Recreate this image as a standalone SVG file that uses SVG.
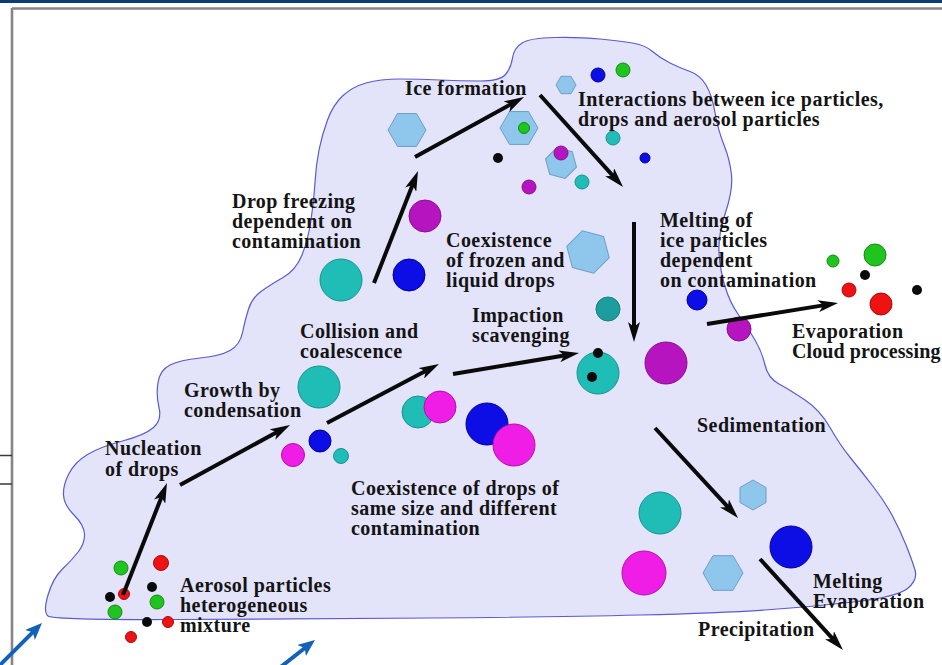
<svg xmlns="http://www.w3.org/2000/svg" width="942" height="665" viewBox="0 0 942 665">
  <style>
    .lbl { font-family: "Liberation Serif", "Times New Roman", serif; font-weight: bold; font-size: 20px; letter-spacing: 0.45px; fill: #141414; }
    .tight { letter-spacing: 0.1px; }
    .cloud { fill: #e3e3fa; stroke: #5a5ad2; stroke-width: 1.2; }
    .flow { stroke: #0a0a0a; stroke-width: 4; fill: none; marker-end: url(#head); }
    .ptr { stroke: #1263b8; stroke-width: 4; fill: none; marker-end: url(#bhead); }
    .hex { fill: #8fc6ec; stroke: #6d9fc6; stroke-width: 1; }
    .teal { fill: #20bcb6; stroke: #15948f; stroke-width: 1; }
    .dteal { fill: #1c9e9e; stroke: #157d7d; stroke-width: 1; }
    .blue { fill: #0d0de6; stroke: #00009c; stroke-width: 1; }
    .pink { fill: #ef1de6; stroke: #b010a8; stroke-width: 1; }
    .purple { fill: #b614bf; stroke: #861090; stroke-width: 1; }
    .green { fill: #1fc41f; stroke: #138a13; stroke-width: 1; }
    .red { fill: #ee1212; stroke: #a80a0a; stroke-width: 1; }
    .black { fill: #0a0a0a; }
  </style>
  <defs>
    <marker id="head" markerUnits="userSpaceOnUse" viewBox="0 0 20 12" markerWidth="20" markerHeight="12" refX="8" refY="6" orient="auto">
      <path d="M0,0 L20,6 L0,12 L5,6 z" fill="#0a0a0a"/>
    </marker>
    <marker id="bhead" markerUnits="userSpaceOnUse" viewBox="0 0 17 14" markerWidth="17" markerHeight="14" refX="7" refY="7" orient="auto">
      <path d="M0,0 L17,7 L0,14 L4,7 z" fill="#1263b8"/>
    </marker>
  </defs>

  <rect width="942" height="665" fill="#ffffff"/>

  <!-- page frame -->
  <g id="frame">
    <rect x="0" y="0" width="942" height="3" fill="#0b3c74"/>
    <path d="M12,8.5 H942 M12,8 V665" stroke="#858585" stroke-width="2.6" fill="none"/>
    <path d="M0,455.5 H12 M0,484 H12" stroke="#3a3a3a" stroke-width="1.4" fill="none"/>
  </g>

  <!-- cloud body -->
  <path id="cloud" class="cloud" d="M48,616 Q53,620 176.5,619.5 Q300,619 430,618 Q560,617 640,615 Q720,613 765,610 Q810,607 853.5,602 Q897,597 907.5,588.5 Q918,580 915,570 Q912,560 906,545 Q900,530 892.5,516 Q885,502 873.5,487 Q862,472 851,458.5 Q840,445 830,427.5 Q820,410 805,400 Q790,390 779,384 Q768,378 765,365 Q762,352 755,340 Q748,328 739,315.5 Q730,303 725,286.5 Q720,270 719,252.5 Q718,235 725.5,212.5 Q733,190 731.5,175 Q730,160 724,145 Q718,130 715,112.5 Q712,95 706,85 Q700,75 690,71.5 Q680,68 670,63 Q660,58 652.5,51.5 Q645,45 632.5,43 Q620,41 600,39 Q580,37 555,37.5 Q530,38 522,43 Q514,48 512.5,58 Q511,68 505.5,74.5 Q500,81 480,81 Q460,81 440,80 Q420,79 400,79 Q380,79 366,83 Q352,87 342.5,96 Q333,105 327.5,120 Q322,135 319,150 Q316,165 315,182.5 Q314,200 311,220 Q308,240 302,255 Q296,270 283,277.5 Q270,285 261,291.5 Q252,298 248.5,309 Q245,320 242.5,332.5 Q240,345 230,350.5 Q220,356 200,358 Q180,360 170,365 Q160,370 158,382.5 Q156,395 159,407.5 Q162,420 153.5,427.5 Q145,435 122.5,441 Q100,447 87.5,454.5 Q75,462 69,473.5 Q63,485 63.5,495 Q64,505 74,515 Q84,525 84.5,534 Q85,543 78.5,551.5 Q72,560 62.5,569 Q53,578 48,595 Q43,612 48,616 Z"/>

  <!-- aerosol particles -->
  <g id="aerosol">
    <circle class="green" cx="121" cy="568" r="7"/>
    <circle class="red" cx="161" cy="563" r="7.5"/>
    <circle class="black" cx="110" cy="597" r="5"/>
    <circle class="red" cx="124" cy="594" r="5.5"/>
    <circle class="black" cx="152" cy="587" r="5"/>
    <circle class="green" cx="157" cy="602" r="7"/>
    <circle class="green" cx="115" cy="612" r="7"/>
    <circle class="black" cx="147" cy="622" r="5"/>
    <circle class="red" cx="168" cy="622" r="5.5"/>
    <circle class="red" cx="131" cy="637" r="5.5"/>
    <text class="lbl" x="180" y="592">Aerosol particles</text>
    <text class="lbl" x="180" y="612">heterogeneous</text>
    <text class="lbl" x="180" y="632">mixture</text>
  </g>

  <g id="nucleation">
    <text class="lbl" x="105" y="455">Nucleation</text>
    <text class="lbl" x="105" y="476">of drops</text>
  </g>

  <g id="growth">
    <circle class="teal" cx="319" cy="387" r="21"/>
    <circle class="pink" cx="293" cy="455" r="11.5"/>
    <circle class="blue" cx="320" cy="441" r="11"/>
    <circle class="teal" cx="341" cy="456" r="7.5"/>
    <text class="lbl" x="184" y="397">Growth by</text>
    <text class="lbl" x="184" y="417">condensation</text>
  </g>

  <g id="collision">
    <circle class="teal" cx="418" cy="412" r="16"/>
    <circle class="pink" cx="440" cy="407" r="16"/>
    <circle class="blue" cx="487" cy="424" r="21"/>
    <circle class="pink" cx="514" cy="445" r="21"/>
    <text class="lbl" x="300" y="338">Collision and</text>
    <text class="lbl" x="300" y="358">coalescence</text>
  </g>

  <g id="same-size">
    <text class="lbl" x="351" y="495">Coexistence of drops of</text>
    <text class="lbl" x="351" y="515">same size and different</text>
    <text class="lbl" x="351" y="535">contamination</text>
  </g>

  <g id="drop-freezing">
    <circle class="teal" cx="341" cy="280" r="21"/>
    <circle class="blue" cx="409" cy="275" r="16"/>
    <circle class="purple" cx="425" cy="216" r="16"/>
    <text class="lbl" x="232" y="208">Drop freezing</text>
    <text class="lbl" x="232" y="228">dependent on</text>
    <text class="lbl" x="232" y="248">contamination</text>
  </g>

  <g id="ice-formation">
    <polygon class="hex" transform="translate(407,130)" points="19,0 9.5,16.45 -9.5,16.45 -19,0 -9.5,-16.45 9.5,-16.45"/>
    <text class="lbl" x="405" y="95">Ice formation</text>
  </g>

  <g id="interactions">
    <polygon class="hex" transform="translate(519,128)" points="19,0 9.5,16.45 -9.5,16.45 -19,0 -9.5,-16.45 9.5,-16.45"/>
    <circle class="green" cx="524" cy="128" r="5.5"/>
    <polygon class="hex" transform="translate(566,85)" points="10,0 5,8.66 -5,8.66 -10,0 -5,-8.66 5,-8.66"/>
    <circle class="blue" cx="598" cy="75" r="7"/>
    <circle class="green" cx="623" cy="70" r="7"/>
    <circle class="black" cx="498" cy="158" r="5"/>
    <polygon class="hex" transform="translate(561,163) rotate(15)" points="16,0 8,13.86 -8,13.86 -16,0 -8,-13.86 8,-13.86"/>
    <circle class="purple" cx="561" cy="153" r="7"/>
    <circle class="teal" cx="613" cy="138" r="7"/>
    <circle class="teal" cx="582" cy="182" r="7"/>
    <circle class="purple" cx="529" cy="187" r="7"/>
    <circle class="blue" cx="645" cy="158" r="5"/>
    <text class="lbl" x="578" y="106">Interactions between ice particles,</text>
    <text class="lbl" x="578" y="126">drops and aerosol particles</text>
  </g>

  <g id="frozen-liquid">
    <polygon class="hex" transform="translate(588,252) rotate(15)" points="22,0 11,19.05 -11,19.05 -22,0 -11,-19.05 11,-19.05"/>
    <text class="lbl" x="446" y="247">Coexistence</text>
    <text class="lbl" x="446" y="267">of frozen and</text>
    <text class="lbl" x="446" y="287">liquid drops</text>
  </g>

  <g id="impaction">
    <circle class="dteal" cx="608" cy="309" r="12"/>
    <circle class="teal" cx="598" cy="373" r="21"/>
    <circle class="black" cx="598" cy="353" r="5"/>
    <circle class="black" cx="592" cy="377" r="5"/>
    <text class="lbl" x="472" y="322">Impaction</text>
    <text class="lbl" x="472" y="342">scavenging</text>
  </g>

  <g id="melting-ice">
    <circle class="blue" cx="697" cy="300" r="10"/>
    <circle class="purple" cx="739" cy="329" r="12"/>
    <circle class="purple" cx="666" cy="363" r="21"/>
    <text class="lbl" x="660" y="227">Melting of</text>
    <text class="lbl" x="660" y="247">ice particles</text>
    <text class="lbl" x="660" y="267">dependent</text>
    <text class="lbl" x="660" y="287">on contamination</text>
  </g>

  <g id="evaporation">
    <circle class="green" cx="833" cy="261" r="6"/>
    <circle class="green" cx="875" cy="255" r="11"/>
    <circle class="black" cx="865" cy="275" r="5"/>
    <circle class="red" cx="849" cy="290" r="7"/>
    <circle class="red" cx="881" cy="304" r="11"/>
    <circle class="black" cx="917" cy="290" r="5"/>
    <text class="lbl" x="792" y="338">Evaporation</text>
    <text class="lbl tight" x="792" y="358">Cloud processing</text>
  </g>

  <g id="sedimentation">
    <circle class="teal" cx="660" cy="513" r="21"/>
    <polygon class="hex" transform="translate(753,495) rotate(90)" points="15,0 7.5,12.99 -7.5,12.99 -15,0 -7.5,-12.99 7.5,-12.99"/>
    <circle class="pink" cx="644" cy="573" r="22"/>
    <polygon class="hex" transform="translate(723,573)" points="20,0 10,17.32 -10,17.32 -20,0 -10,-17.32 10,-17.32"/>
    <circle class="blue" cx="791" cy="547" r="21"/>
    <text class="lbl" x="697" y="432">Sedimentation</text>
  </g>

  <g id="melting-evaporation">
    <text class="lbl" x="813" y="588">Melting</text>
    <text class="lbl" x="813" y="608">Evaporation</text>
  </g>

  <g id="precipitation">
    <text class="lbl" x="698" y="636">Precipitation</text>
  </g>

  <!-- process arrows -->
  <g id="connectors">
    <path class="flow" d="M123,595 L162.6,494.2"/>
    <path class="flow" d="M180,485 L279.5,430.7"/>
    <path class="flow" d="M327,423 L428.4,369.6"/>
    <path class="flow" d="M453,374 L567.2,355"/>
    <path class="flow" d="M374,283 L413.6,182.2"/>
    <path class="flow" d="M415,157 L513.5,102.8"/>
    <path class="flow" d="M540,95 L615,178.1"/>
    <path class="flow" d="M634,222 L634,330"/>
    <path class="flow" d="M707,324 L826.2,304.9"/>
    <path class="flow" d="M655,428 L729.9,509.2"/>
    <path class="flow" d="M760,559 L834.9,641.1"/>
  </g>

  <!-- blue pointers along the lower edge -->
  <g id="pointers">
    <path class="ptr" d="M-4,669 L34.9,630.1"/>
    <path class="ptr" d="M280,667.5 L307.1,646.2"/>
  </g>
</svg>
